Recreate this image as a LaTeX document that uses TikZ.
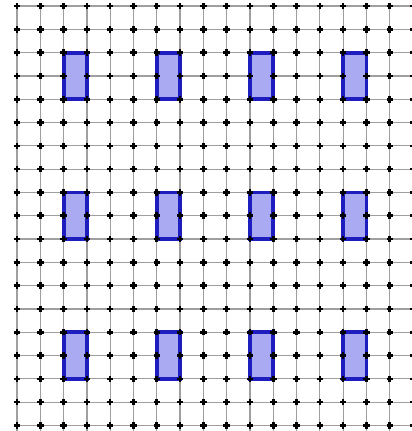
\documentclass[tikz,border=0pt]{standalone}
\usepackage{tikz}
\usetikzlibrary{calc}

\definecolor{cellfill}{RGB}{170,170,242}
\definecolor{cellborder}{RGB}{30,30,190}

\tikzset{
    gridline/.style={gray!75, line width=0.9pt},
    plusmark/.style={black, line width=1.9pt},
    cellbox/.style={fill=cellfill, draw=cellborder, line width=2.8pt}
}

\begin{document}
\begin{tikzpicture}[x=0.6cm, y=0.6cm]

% --- FRAME: white page with the reference margins ---
\fill[white] (-0.73,0.26) rectangle (16.95,-18.24);
\useasboundingbox (-0.73,0.26) rectangle (16.95,-18.24);

% --- GRID LINES ---
\foreach \i in {0,...,17}
    \draw[gridline] (\i,0) -- (\i,-18.3);
\foreach \j in {0,...,18}
    \draw[gridline] (0,-\j) -- (17,-\j);

% --- BLUE CELLS (4 columns x 3 rows) ---
\foreach \c in {0,...,3}
    \foreach \r in {0,...,2}
        \draw[cellbox] ({2+4*\c},{-2-6*\r}) rectangle ({3+4*\c},{-4-6*\r});

% --- GRID POINTS ---
\foreach \i in {0,...,17}
    \foreach \j in {0,...,18}
        \draw[plusmark] (\i-0.14,-\j) -- (\i+0.14,-\j)
                        (\i,-\j-0.14) -- (\i,-\j+0.14);

\end{tikzpicture}
\end{document}
